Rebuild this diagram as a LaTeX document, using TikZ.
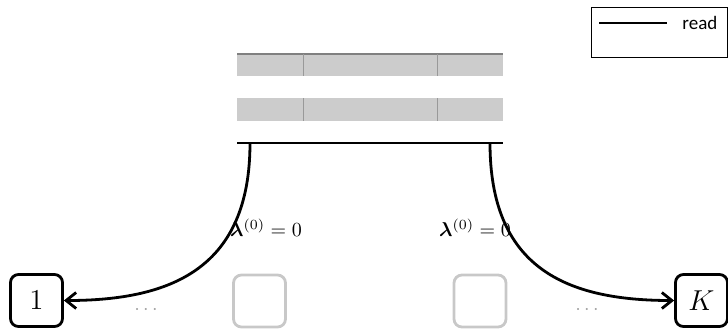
\documentclass[tikz,border=0pt]{standalone}
\usepackage{bm}
\usepackage{fontspec}
\newfontfamily\legendfont{Carlito}
\usetikzlibrary{arrows.meta}
\definecolor{barfill}{HTML}{CCCCCC}
\definecolor{barline}{HTML}{999999}
\definecolor{ghost}{HTML}{C8C8C8}
\definecolor{dotgray}{HTML}{A0A0A0}
\begin{document}
\begin{tikzpicture}[x=0.5pt,y=-0.5pt,
  cell/.style={draw, line width=1.4pt, rounded corners=4pt, minimum width=26pt, minimum height=26pt, inner sep=0pt, font=\fontsize{15}{18}\selectfont},
  ghostcell/.style={cell, draw=ghost},
  readarrow/.style={line width=1.4pt, -{Straight Barb[length=5pt,width=8pt]}},
  divider/.style={draw=barline, line width=0.5pt},
  dots/.style={text=dotgray, inner sep=0pt},
  lbl/.style={inner sep=0pt}]
\useasboundingbox (0,0) rectangle (728,329);

% stacked blocks
\fill[barfill] (237,54) rectangle (503,76);
\draw[draw=gray, line width=0.8pt] (237,54) -- (503,54);
\draw[divider] (303,54) -- (303,76);
\draw[divider] (437,54) -- (437,76);
\fill[barfill] (237,98) rectangle (503,121);
\draw[divider] (303,98) -- (303,121);
\draw[divider] (437,98) -- (437,121);
\draw[line width=0.8pt] (237,143) -- (503,143);

\coordinate (srcL) at (250,143);
\coordinate (srcR) at (490,143);

% worker cells
\node[cell] (w1) at (36.5,300.5) {$1$};
\node[ghostcell] (w2) at (259.5,301) {};
\node[ghostcell] (w3) at (480,301) {};
\node[cell] (wK) at (701.5,300.5) {$K$};
\node[dots] (d1) at (146,310) {$\cdots$};
\node[dots] (d2) at (587,310) {$\cdots$};

% read connectors
\draw[readarrow] (srcL) to[out=-90,in=0,out distance=62.5pt,in distance=54pt] (w1.east);
\draw[readarrow] (srcR) to[out=-90,in=180,out distance=62.5pt,in distance=54pt] (wK.west);
\node[lbl] (l1) at (266,228) {$\bm{\lambda}^{(0)}=0$};
\node[lbl] (l2) at (475,228) {$\bm{\lambda}^{(0)}=0$};

% legend
\draw[line width=0.5pt] (591,7) rectangle (727,57);
\coordinate (lga) at (599,23);
\coordinate (lgb) at (667,23);
\draw[line width=1.2pt] (lga) -- (lgb);
\node[anchor=west, inner sep=0pt, font=\legendfont\fontsize{9.5}{11}\selectfont] (lgt) at (682,23) {read};
\end{tikzpicture}
\end{document}
